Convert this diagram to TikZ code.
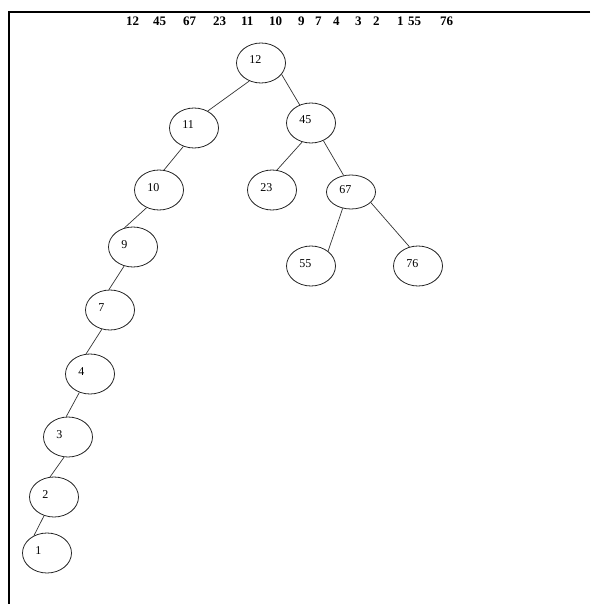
\documentclass[tikz,border=0pt]{standalone}
\usepackage{fontspec}
\setmainfont{Liberation Serif}
\usetikzlibrary{shapes.geometric}

\tikzset{
  tnode/.style={ellipse, draw=black!85, line width=0.8pt, minimum width=49pt,
    minimum height=40pt, inner sep=0pt,
    label={[anchor=base west, xshift=13pt, yshift=-1pt, inner sep=0pt,
            font=\fontsize{12}{14}\selectfont]west:#1}},
  edge/.style={draw=black!80, line width=0.7pt},
  seq/.style={anchor=base west, inner sep=0pt,
    font=\fontsize{13}{15}\selectfont\bfseries},
  frame/.style={line width=2pt}
}

\begin{document}
\begin{tikzpicture}[x=1pt, y=-1pt]
  \useasboundingbox (0,0) rectangle (590,604);

  % open frame: top and left rules
  \coordinate (ftop) at (590,12);
  \coordinate (fcorner) at (9,12);
  \coordinate (fbottom) at (9,604);
  \draw[frame] (ftop) -- (fcorner) -- (fbottom);

  % insertion order
  \foreach \v/\x [count=\i] in {12/126, 45/153, 67/183, 23/213, 11/241, 10/269,
      9/298, 7/315, 4/333, 3/355, 2/373, 1/397, 55/408, 76/440}
    \node[seq] (s\i) at (\x,26) {\v};

  % tree nodes
  \node[tnode=12] (n12) at (261,63) {};
  \node[tnode=11] (n11) at (194,128) {};
  \node[tnode=45] (n45) at (311,123) {};
  \node[tnode=10] (n10) at (159,190) {};
  \node[tnode=23] (n23) at (272,190) {};
  \node[tnode=67, minimum height=34pt] (n67) at (351,192) {};
  \node[tnode=55] (n55) at (311,266) {};
  \node[tnode=76] (n76) at (418,266) {};
  \node[tnode=9] (n9) at (133,247) {};
  \node[tnode=7] (n7) at (110,310) {};
  \node[tnode=4] (n4) at (90,374) {};
  \node[tnode=3] (n3) at (68,437) {};
  \node[tnode=2] (n2) at (54,497) {};
  \node[tnode=1] (n1) at (47,553) {};

  % edges
  \draw[edge] (n12.237) -- (n11.51);
  \draw[edge] (n12.-29) -- (n45.122);
  \draw[edge] (n11.240) -- (n10.76);
  \draw[edge] (n10.235) -- (n9.114);
  \draw[edge] (n9.245) -- (n7.93);
  \draw[edge] (n7.247) -- (n4.101);
  \draw[edge] (n4.240) -- (n3.95);
  \draw[edge] (n3.259) -- (n2.101);
  \draw[edge] (n2.242) -- (n1.127);
  \draw[edge] (n45.245) -- (n23.76);
  \draw[edge] (n45.305) -- (n67.114);
  \draw[edge] (n67.243) -- (n55.41);
  \draw[edge] (n67.332) -- (n76.114);
\end{tikzpicture}
\end{document}
